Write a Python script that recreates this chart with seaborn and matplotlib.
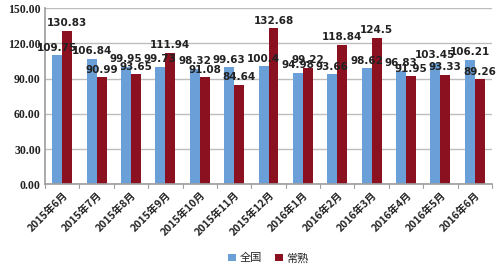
import matplotlib
matplotlib.use("Agg")
import matplotlib.pyplot as plt
import seaborn as sns
import pandas as pd

months = ["2015年6月", "2015年7月", "2015年8月", "2015年9月", "2015年10月", "2015年11月",
          "2015年12月", "2016年1月", "2016年2月", "2016年3月", "2016年4月", "2016年5月", "2016年6月"]
national = [109.75, 106.84, 99.95, 99.73, 98.32, 99.63, 100.4, 94.98, 93.66, 98.62, 96.83, 103.45, 106.21]
changshu = [130.83, 90.99, 93.65, 111.94, 91.08, 84.64, 132.68, 99.22, 118.84, 124.5, 91.95, 93.33, 89.26]
national_labels = ["109.75", "106.84", "99.95", "99.73", "98.32", "99.63", "100.4", "94.98", "93.66", "98.62", "96.83", "103.45", "106.21"]
changshu_labels = ["130.83", "90.99", "93.65", "111.94", "91.08", "84.64", "132.68", "99.22", "118.84", "124.5", "91.95", "93.33", "89.26"]
series_names = ["全国", "常熟"]
yticks = [0, 30, 60, 90, 120, 150]

sns.set_theme(style="white")
plt.rcParams['font.family'] = ['Noto Sans CJK SC', 'DejaVu Sans']

df = pd.DataFrame({
    "month": months * 2,
    "value": national + changshu,
    "series": [series_names[0]] * len(months) + [series_names[1]] * len(months),
})

fig = plt.figure(figsize=(5.0, 2.71), dpi=100)
ax = fig.add_axes([0.09, 0.32, 0.894, 0.65])

sns.barplot(data=df, x="month", y="value", hue="series", hue_order=series_names,
            palette=["#6a9fd8", "#8b1020"], width=0.58, saturation=1, ax=ax,
            errorbar=None, legend=True, linewidth=0)

for cont, labs in zip(ax.containers, [national_labels, changshu_labels]):
    ax.bar_label(cont, labels=labs, fontsize=7.5, fontweight="bold", padding=2,
                 color="#222222", family=['DejaVu Sans'])

ax.set_ylim(0, 150)
ax.set_yticks(yticks)
ax.set_yticklabels([f"{v:.2f}" for v in yticks], fontsize=8.5, fontweight="bold",
                   family=['Liberation Serif'], color="#222222")
ax.yaxis.grid(True, color="#bdbdbd", linewidth=1)
ax.set_axisbelow(True)
ax.set_xlim(-0.5, len(months) - 0.5)
ax.set_xticks(range(len(months)))
ax.set_xticklabels(months, rotation=45, ha="right", rotation_mode="anchor",
                   fontsize=7.5, fontweight="bold", color="#222222")
ax.tick_params(axis="x", length=0, pad=4)
ax.tick_params(axis="y", length=0, pad=3)
for x in range(len(months) + 1):
    ax.plot([x - 0.5, x - 0.5], [0, -3], color="#a0a0a0", lw=0.8, clip_on=False)
ax.set_xlabel("")
ax.set_ylabel("")
for s in ["top", "right"]:
    ax.spines[s].set_visible(False)
ax.spines["left"].set_color("#a0a0a0")
ax.spines["bottom"].set_color("#a0a0a0")

leg = ax.legend(loc="center", bbox_to_anchor=(0.5, -0.42), ncol=2, frameon=False,
                fontsize=8, handlelength=0.7, handleheight=0.7, handletextpad=0.3,
                columnspacing=1.2)

fig.savefig("out.png", dpi=100)
